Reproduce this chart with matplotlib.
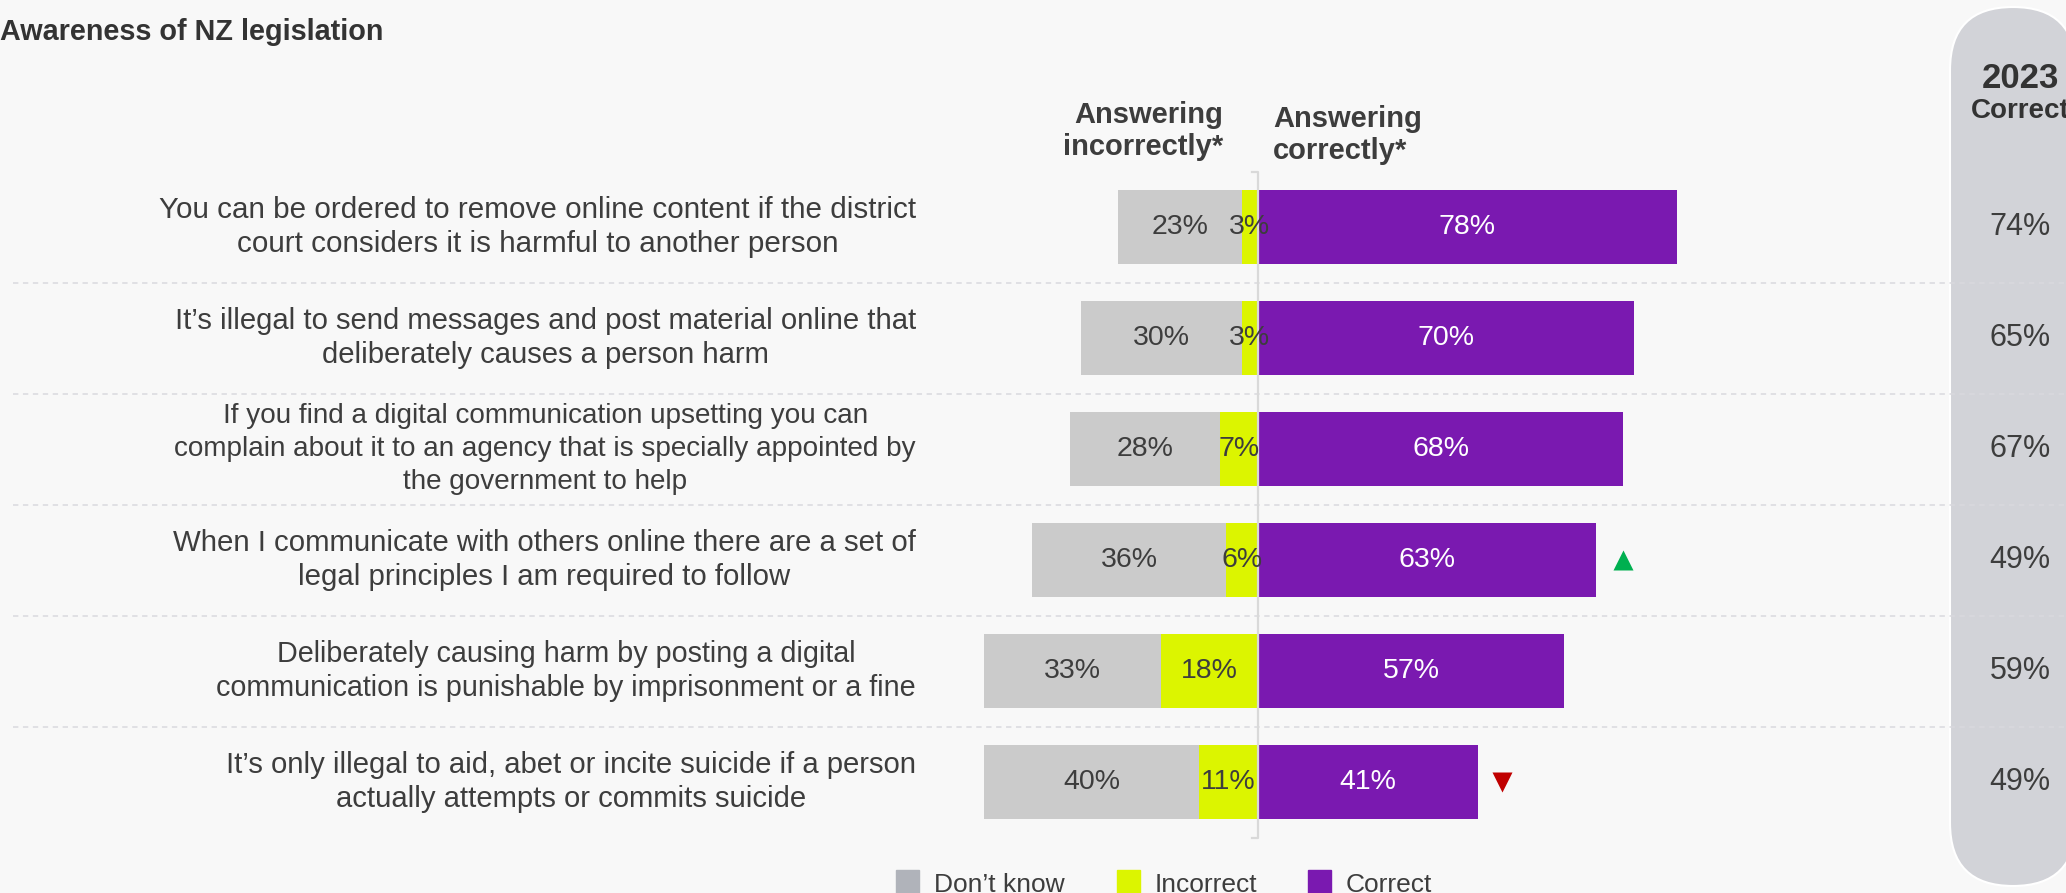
import numpy as np
import matplotlib.pyplot as plt
from matplotlib.patches import FancyBboxPatch, Rectangle

plt.rcParams['font.family'] = ['Liberation Sans', 'DejaVu Sans']

# Survey statements and shares (%)
statements = [
    "You can be ordered to remove online content if the district\ncourt considers it is harmful to another person",
    "It\u2019s illegal to send messages and post material online that\ndeliberately causes a person harm",
    "If you find a digital communication upsetting you can\ncomplain about it to an agency that is specially appointed by\nthe government to help",
    "When I communicate with others online there are a set of\nlegal principles I am required to follow",
    "Deliberately causing harm by posting a digital\ncommunication is punishable by imprisonment or a fine",
    "It\u2019s only illegal to aid, abet or incite suicide if a person\nactually attempts or commits suicide",
]
dont_know = [23, 30, 28, 36, 33, 40]
incorrect = [3, 3, 7, 6, 18, 11]
correct = [78, 70, 68, 63, 57, 41]
correct_2023 = [74, 65, 67, 49, 59, 49]
change = [0, 0, 0, 1, 0, -1]   # +1 up, -1 down vs 2023

legend_labels = ["Don\u2019t know", "Incorrect", "Correct"]

# statement text shrinks a little on the longer boxes
label_size = [21.3, 21.1, 20.1, 21.2, 20.7, 21.1]

GRAY = '#cbcbcb'
GRAY_KEY = '#b0b3ba'
YELLOW = '#dcf500'
PURPLE = '#7a19b0'
TEXT = '#3d3d3d'
BG = '#f8f8f8'

W, H = 2066, 893
fig = plt.figure(figsize=(W / 100, H / 100), dpi=100)
fig.patch.set_facecolor(BG)

# pixel-space layer for the side panel and legend
deco = fig.add_axes([0, 0, 1, 1])
deco.set_xlim(0, W)
deco.set_ylim(H, 0)
deco.axis('off')

# main layer: x in percent, y in rows
ax = fig.add_axes([0, 0, 1, 1])
ax.patch.set_alpha(0)
ax.axis('off')
ZERO_X, PCT, ROW0, STEP = 1258, 5.37, 227, 111
ax.set_xlim(-ZERO_X / PCT, (W - ZERO_X) / PCT)
ax.set_ylim((H - ROW0) / STEP, -ROW0 / STEP)


def xd(px):
    return (px - ZERO_X) / PCT


def yd(py):
    return (py - ROW0) / STEP


# 2023 side panel
deco.add_patch(FancyBboxPatch((1950, 7), 126, 879,
                              boxstyle="round,pad=0,rounding_size=63",
                              fc='#d2d3d8', ec='white', lw=1.5, zorder=1))
deco.text(2020, 79, "2023", ha='center', va='center', fontsize=25,
          fontweight='bold', color='#333333')
deco.text(2020, 111, "Correct", ha='center', va='center', fontsize=20,
          fontweight='bold', color='#333333')

y = np.arange(len(statements))
dk = np.array(dont_know)
inc = np.array(incorrect)
cor = np.array(correct)

ax.barh(y, -inc, height=0.66, color=YELLOW, zorder=2)
ax.barh(y, -dk, left=-inc, height=0.66, color=GRAY, zorder=2)
ax.barh(y, cor, height=0.66, color=PURPLE, zorder=2)

for i in y:
    ax.text(-inc[i] - dk[i] / 2, i, f"{dk[i]}%", ha='center', va='center',
            fontsize=20.5, color=TEXT, zorder=4)
    ax.text(-inc[i] / 2, i, f"{inc[i]}%", ha='center', va='center',
            fontsize=20.5, color=TEXT, zorder=4)
    ax.text(cor[i] / 2, i, f"{cor[i]}%", ha='center', va='center',
            fontsize=20.5, color='white', zorder=4)
    # keep the same line pitch whatever the font size
    ax.text(xd(916), i, statements[i], ha='right', va='center',
            multialignment='center', fontsize=label_size[i], color=TEXT,
            linespacing=1.27 * 21.2 / label_size[i])
    ax.text(xd(2020), i, f"{correct_2023[i]}%", ha='center', va='center',
            fontsize=22, color=TEXT, zorder=4)
    if change[i] > 0:
        ax.plot(cor[i] + 5, i, marker='^', ms=15, color='#00b050',
                mec='none', zorder=4)
    elif change[i] < 0:
        ax.plot(cor[i] + 4.5, i, marker='v', ms=15, color='#c00000',
                mec='none', zorder=4)

# row separators
for k in range(len(statements) - 1):
    ax.axhline(k + 0.5, xmin=13 / W, xmax=1, color='#d9d9de', lw=1.1,
               ls=(0, (3.5, 3)), zorder=3)

# centre divider
ax.plot([-1.2, 0, 0, -1.2], [-0.5, -0.5, 5.5, 5.5], color='#d9d9d9',
        lw=1.6, zorder=3)

ax.text(xd(1223), yd(101), "Answering\nincorrectly*", ha='right', va='top',
        fontsize=21, fontweight='bold', color=TEXT, linespacing=1.2)
ax.text(xd(1273), yd(105), "Answering\ncorrectly*", ha='left', va='top',
        fontsize=21, fontweight='bold', color=TEXT, linespacing=1.2)

deco.text(383, 40, "Awareness of NZ legislation", ha='right', va='baseline',
          fontsize=20.7, fontweight='bold', color='#333333')

# legend
for label, color, x0 in zip(legend_labels, [GRAY_KEY, YELLOW, PURPLE],
                            [896, 1117, 1308]):
    deco.add_patch(Rectangle((x0, 870), 23, 23, color=color))
    deco.text(x0 + 38, 892, label, ha='left', va='baseline',
              fontsize=19, color=TEXT)

fig.savefig('out.png', dpi=100, facecolor=fig.get_facecolor())
